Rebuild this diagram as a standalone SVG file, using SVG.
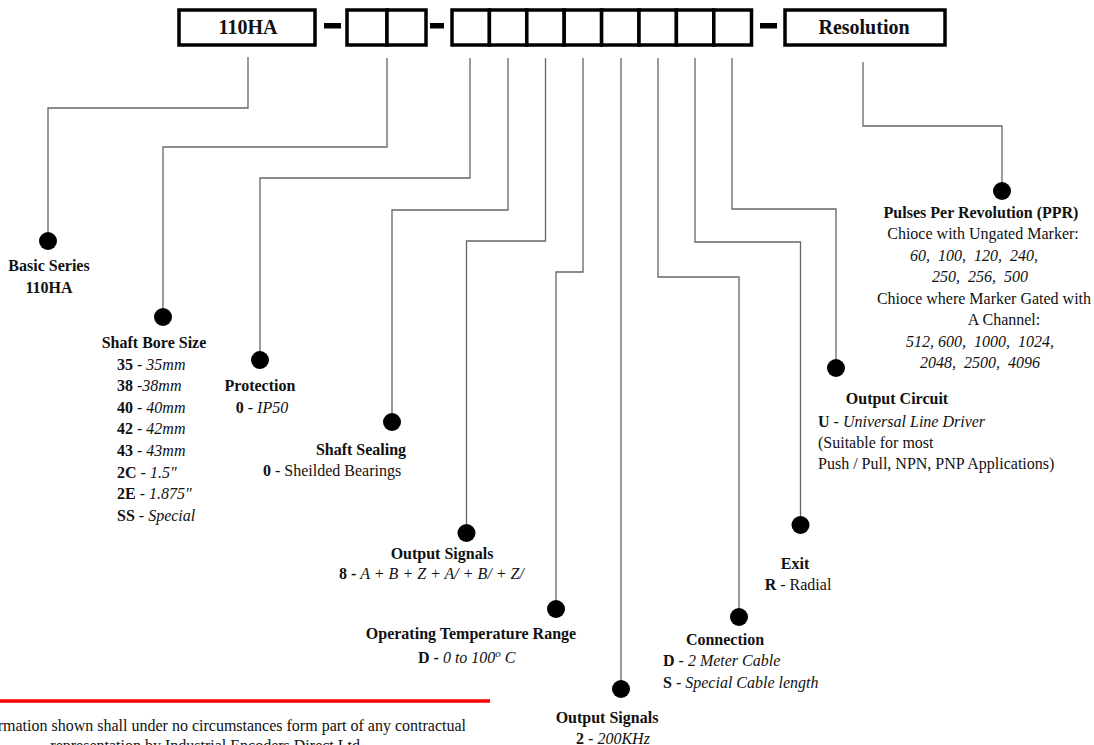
<svg xmlns="http://www.w3.org/2000/svg" width="1094" height="745" viewBox="0 0 1094 745">
<style>
text{font-family:"Liberation Serif","Times New Roman",serif;font-size:16px;fill:#111}
.b{font-weight:bold}
.i{font-style:italic}
.h{font-weight:bold;text-anchor:middle}
.c{text-anchor:middle}
.box{fill:#fff;stroke:#000;stroke-width:3.5}
.dash{fill:#000}
.ln{fill:none;stroke:#666;stroke-width:1.3}
.dot{fill:#000}
.top{font-size:20px;font-weight:bold;text-anchor:middle}
.pre{white-space:pre}
</style>
<rect width="1094" height="745" fill="#fff"/>
<g id="code">
<rect class="box" x="179" y="10" width="136" height="35"/>
<text class="top" x="248" y="34">110HA</text>
<rect class="dash" x="324" y="23" width="17" height="5.5"/>
<rect class="box" x="347" y="10" width="40" height="35"/>
<rect class="box" x="387" y="10" width="39" height="35"/>
<rect class="dash" x="430" y="23" width="14" height="5.5"/>
<rect class="box" x="452" y="10" width="37.4" height="35"/>
<rect class="box" x="489.4" y="10" width="37.4" height="35"/>
<rect class="box" x="526.8" y="10" width="37.4" height="35"/>
<rect class="box" x="564.2" y="10" width="37.4" height="35"/>
<rect class="box" x="601.6" y="10" width="37.4" height="35"/>
<rect class="box" x="639" y="10" width="37.4" height="35"/>
<rect class="box" x="676.4" y="10" width="37.4" height="35"/>
<rect class="box" x="713.8" y="10" width="37.7" height="35"/>
<rect class="dash" x="760" y="23" width="17" height="5.5"/>
<rect class="box" x="785" y="10" width="160" height="35"/>
<text class="top" x="864" y="34">Resolution</text>
</g>
<g id="connectors">
<path class="ln" d="M248,57 V108 H48 V241"/>
<path class="ln" d="M387,58 V147 H163 V317"/>
<path class="ln" d="M470,58 V178 H260 V360"/>
<path class="ln" d="M508,58 V210 H392 V422"/>
<path class="ln" d="M545.5,58 V241 H466.5 V533"/>
<path class="ln" d="M583,58 V272 H556 V609"/>
<path class="ln" d="M621,58 V689"/>
<path class="ln" d="M658,58 V277 H739 V617"/>
<path class="ln" d="M695,58 V242 H800.5 V525"/>
<path class="ln" d="M732,58 V209 H836 V368"/>
<path class="ln" d="M863,62 V126 H1002 V191"/>
</g>
<g id="basic-series">
<circle class="dot" cx="48" cy="241" r="9"/>
<text class="h" x="49" y="271">Basic Series</text>
<text class="h" x="49" y="293">110HA</text>
</g>
<g id="shaft-bore">
<circle class="dot" cx="163" cy="317" r="9"/>
<text class="h" x="154" y="348">Shaft Bore Size</text>
<text x="117" y="370"><tspan class="b">35</tspan> - <tspan class="i">35mm</tspan></text>
<text x="117" y="391"><tspan class="b">38</tspan> -<tspan class="i">38mm</tspan></text>
<text x="117" y="413"><tspan class="b">40</tspan> - <tspan class="i">40mm</tspan></text>
<text x="117" y="434"><tspan class="b">42</tspan> - <tspan class="i">42mm</tspan></text>
<text x="117" y="456"><tspan class="b">43</tspan> - <tspan class="i">43mm</tspan></text>
<text x="117" y="478"><tspan class="b">2C</tspan> - <tspan class="i">1.5"</tspan></text>
<text x="117" y="499"><tspan class="b">2E</tspan> - <tspan class="i">1.875"</tspan></text>
<text x="117" y="521"><tspan class="b">SS</tspan> - <tspan class="i">Special</tspan></text>
</g>
<g id="protection">
<circle class="dot" cx="260" cy="360" r="9"/>
<text class="h" x="260" y="391">Protection</text>
<text class="c" x="262" y="413"><tspan class="b">0</tspan> - <tspan class="i">IP50</tspan></text>
</g>
<g id="shaft-sealing">
<circle class="dot" cx="392" cy="422" r="9"/>
<text class="h" x="361" y="455">Shaft Sealing</text>
<text x="263" y="476"><tspan class="b">0</tspan> - Sheilded Bearings</text>
</g>
<g id="output-signals-8">
<circle class="dot" cx="466.5" cy="533" r="9"/>
<text class="h" x="442" y="559">Output Signals</text>
<text x="339" y="579"><tspan class="b">8 -</tspan> <tspan class="i">A + B + Z + A/ + B/ + Z/</tspan></text>
</g>
<g id="operating-temperature">
<circle class="dot" cx="556" cy="609" r="9"/>
<text class="h" x="471" y="639">Operating Temperature Range</text>
<text x="418" y="663"><tspan class="b">D -</tspan> <tspan class="i">0 to 100</tspan><tspan class="i" font-size="11" dy="-6">o</tspan><tspan class="i" dy="6"> C</tspan></text>
</g>
<g id="output-signals-2">
<circle class="dot" cx="621" cy="689" r="9"/>
<text class="h" x="607" y="723">Output Signals</text>
<text class="c" x="613" y="744"><tspan class="b">2</tspan> - <tspan class="i">200KHz</tspan></text>
</g>
<g id="connection">
<circle class="dot" cx="739" cy="617" r="9"/>
<text class="h" x="725" y="645">Connection</text>
<text x="663" y="666"><tspan class="b">D</tspan> - <tspan class="i">2 Meter Cable</tspan></text>
<text x="663" y="688"><tspan class="b">S</tspan> - <tspan class="i">Special Cable length</tspan></text>
</g>
<g id="exit">
<circle class="dot" cx="800.5" cy="525" r="9"/>
<text class="h" x="795" y="569">Exit</text>
<text class="c" x="798" y="590"><tspan class="b">R</tspan> - Radial</text>
</g>
<g id="output-circuit">
<circle class="dot" cx="836" cy="368" r="9"/>
<text class="h" x="897" y="404">Output Circuit</text>
<text x="818" y="427"><tspan class="b">U</tspan> - <tspan class="i">Universal Line Driver</tspan></text>
<text x="818" y="448">(Suitable for most</text>
<text x="818" y="469">Push / Pull, NPN, PNP Applications)</text>
</g>
<g id="ppr">
<circle class="dot" cx="1002" cy="191" r="9"/>
<text class="h" x="981" y="218">Pulses Per Revolution (PPR)</text>
<text class="c" x="983" y="239">Chioce with Ungated Marker:</text>
<text class="c i pre" x="974" y="261">60,  100,  120,  240,</text>
<text class="c i pre" x="980" y="282">250,  256,  500</text>
<text class="c" x="984" y="304">Chioce where Marker Gated with</text>
<text class="c" x="1004" y="325">A Channel:</text>
<text class="c i pre" x="980" y="347">512, 600,  1000,  1024,</text>
<text class="c i pre" x="980" y="368">2048,  2500,  4096</text>
</g>
<g id="disclaimer">
<line x1="0" y1="701" x2="490" y2="701" stroke="#f00" stroke-width="3.5"/>
<text x="466" y="731" text-anchor="end">Information shown shall under no circumstances form part of any contractual</text>
<text x="360" y="751" text-anchor="end">representation by Industrial Encoders Direct Ltd</text>
</g>
</svg>
